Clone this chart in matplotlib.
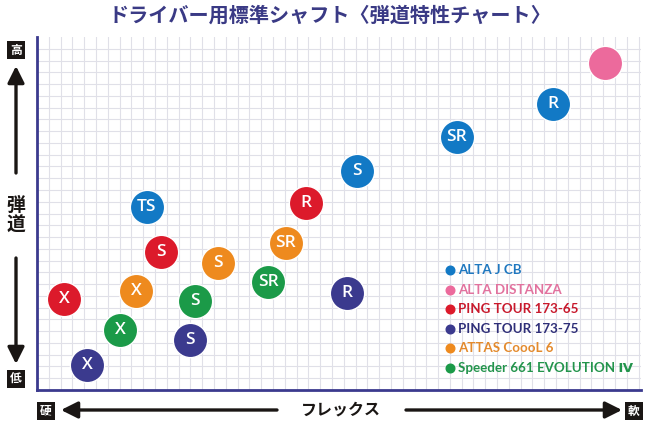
import matplotlib
matplotlib.use("Agg")
import matplotlib.pyplot as plt
from matplotlib.lines import Line2D

plt.rcParams['font.family'] = ['Noto Sans CJK JP', 'DejaVu Sans']

# ---- data (grid units: flex -> x, trajectory -> y) ----
series_names = ["ALTA J CB", "ALTA DISTANZA", "PING TOUR 173-65",
                "PING TOUR 173-75", "ATTAS CoooL 6", "Speeder 661 EVOLUTION Ⅳ"]
series_colors = ["#1279c5", "#ec6a9c", "#dc1a2b", "#3b3a8e", "#ee8a1e", "#1b9a48"]
legend_text_colors = ["#1f78c0", "#e2729e", "#c8192c", "#2f2f78", "#e48a2c", "#23944c"]

alta_jcb_x = [9.32, 27.12, 35.59, 43.73]
alta_jcb_y = [15.55, 18.61, 21.50, 24.30]
alta_jcb_lbl = ["TS", "S", "SR", "R"]

alta_dist_x = [48.14]
alta_dist_y = [27.78]
alta_dist_lbl = [""]

ping65_x = [2.29, 10.51, 22.80]
ping65_y = [7.73, 11.72, 15.89]
ping65_lbl = ["X", "S", "R"]

ping75_x = [4.24, 12.97, 26.27]
ping75_y = [2.12, 4.25, 8.24]
ping75_lbl = ["X", "S", "R"]

attas_x = [8.39, 15.34, 21.10]
attas_y = [8.41, 10.79, 12.49]
attas_lbl = ["X", "S", "SR"]

speeder_x = [7.03, 13.39, 19.58]
speeder_y = [5.10, 7.56, 9.18]
speeder_lbl = ["X", "S", "SR"]

all_x = [alta_jcb_x, alta_dist_x, ping65_x, ping75_x, attas_x, speeder_x]
all_y = [alta_jcb_y, alta_dist_y, ping65_y, ping75_y, attas_y, speeder_y]
all_lbl = [alta_jcb_lbl, alta_dist_lbl, ping65_lbl, ping75_lbl, attas_lbl, speeder_lbl]

title = "ドライバー用標準シャフト〈弾道特性チャート〉"
y_label = "弾\n道"
x_label = "フレックス"
y_high, y_low = "高", "低"
x_hard, x_soft = "硬", "軟"

# ---- figure ----
W, H = 650, 426
fig = plt.figure(figsize=(W / 100, H / 100), dpi=100)
fig.patch.set_facecolor("white")

L, R, T, B = 37, 641, 37, 390
ax = fig.add_axes([L / W, 1 - B / H, (R - L) / W, (B - T) / H])
ax.set_xlim(0, 51.2)
ax.set_ylim(0, 30)
for v in range(1, 52):
    ax.axvline(v, color="#e0e0e8", lw=0.8, zorder=0)
for v in range(1, 30):
    ax.axhline(v, color="#e0e0e8", lw=0.8, zorder=0)
ax.set_xticks([])
ax.set_yticks([])
for s in ["top", "right"]:
    ax.spines[s].set_visible(False)
ax.spines["left"].set_color("#3b3a8e")
ax.spines["bottom"].set_color("#3b3a8e")
ax.spines["left"].set_linewidth(2)
ax.spines["bottom"].set_linewidth(2)

for xs, ys, lbls, col in zip(all_x, all_y, all_lbl, series_colors):
    ax.scatter(xs, ys, s=610, color=col, edgecolors="white", linewidths=1.0, zorder=3)
    for x, y, t in zip(xs, ys, lbls):
        if t:
            ax.text(x, y, t, color="white", fontsize=12.5, ha="center", va="center",
                    family=["Open Sans", "DejaVu Sans"], fontweight="semibold", zorder=4)

# legend
leg_y0 = 270
for i, (name, col, tcol) in enumerate(zip(series_names, series_colors, legend_text_colors)):
    py = leg_y0 + i * 19.6
    fig.add_artist(Line2D([450 / W], [1 - py / H], transform=fig.transFigure,
                          marker="o", markersize=6.2, color=col, linestyle="none"))
    fig.text(458 / W, 1 - py / H, name, color=tcol, fontsize=9.6, ha="left", va="center",
             family=["Lato", "DejaVu Sans"], fontweight="bold")

# title
fig.text(330 / W, 1 - 15 / H, title, color="#3a3a85", fontsize=14.5, ha="center",
         va="center", fontweight="bold")

# axis decorations
def box(px, py, t):
    fig.text(px / W, 1 - py / H, t, color="white", fontsize=8.5, ha="center", va="center",
             fontweight="bold",
             bbox=dict(boxstyle="square,pad=0.25", fc="#1a1614", ec="none"))

box(16, 50, y_high)
box(16, 379, y_low)
box(46, 411, x_hard)
box(634, 411, x_soft)

fig.text(16 / W, 1 - 215 / H, y_label, color="#1a1614", fontsize=13.5, ha="center",
         va="center", fontweight="bold", linespacing=1.05)
fig.text(341 / W, 1 - 410 / H, x_label, color="#1a1614", fontsize=11.5, ha="center",
         va="center", fontweight="bold")

def arrow(x0, y0, x1, y1):
    fig.add_artist(matplotlib.patches.FancyArrowPatch(
        (x0 / W, 1 - y0 / H), (x1 / W, 1 - y1 / H), transform=fig.transFigure,
        arrowstyle="-|>,head_length=4,head_width=2", color="#1a1614", lw=2.4,
        shrinkA=0, shrinkB=0, mutation_scale=2.5))

arrow(16, 173, 16, 66)
arrow(16, 258, 16, 364)
arrow(277, 410, 61, 410)
arrow(406, 410, 622, 410)

fig.savefig("out.png", dpi=100, facecolor="white")
